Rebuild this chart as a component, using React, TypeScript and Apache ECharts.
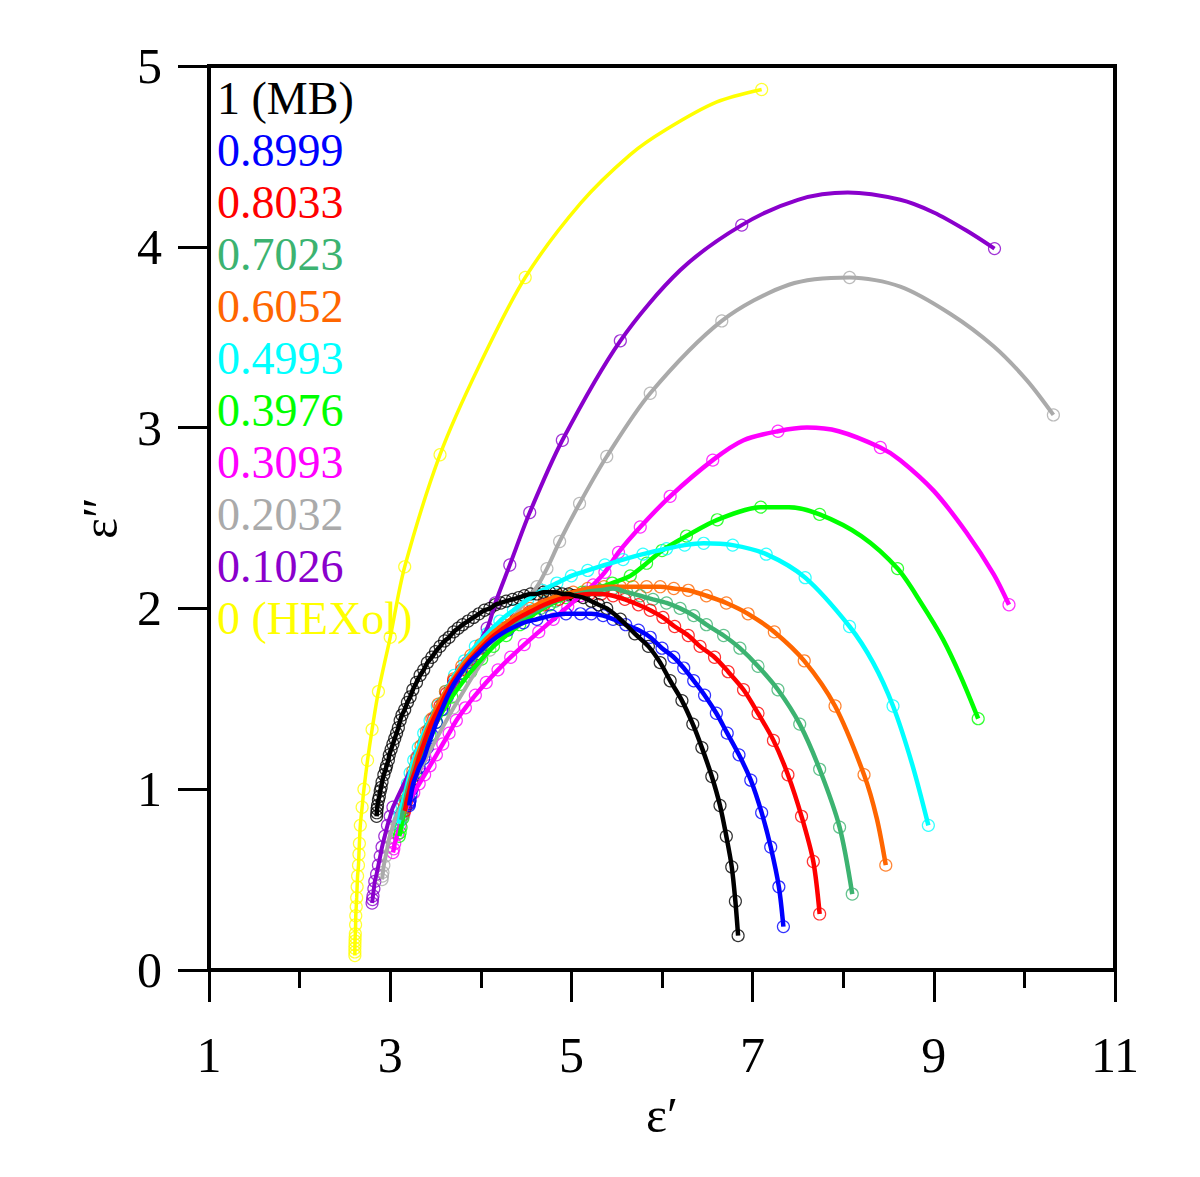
import React, { useEffect, useRef } from "react";
import * as echarts from "echarts";

const FONT = '"Liberation Serif", "Times New Roman", serif';

// Series names (legend order) and colours
const seriesNames = ["1 (MB)", "0.8999", "0.8033", "0.7023", "0.6052", "0.4993", "0.3976", "0.3093", "0.2032", "0.1026", "0 (HEXol)"];
const seriesColors = ["#000000", "#0000ff", "#ff0000", "#3cb371", "#ff6600", "#00ffff", "#00ff00", "#ff00ff", "#aaaaaa", "#8a00cc", "#ffff00"];

// Points: [eps', eps''] ; a third value 0 means "curve point only, no marker"
const mbPts = [
  [2.85, 0.85], [2.852, 0.87], [2.855, 0.89], [2.86, 0.91], [2.87, 0.94], [2.88, 0.96], [2.89, 0.99], [2.90, 1.01], [2.91, 1.04], [2.93, 1.08],
  [2.95, 1.11], [2.96, 1.13], [2.98, 1.16], [2.99, 1.19], [3.01, 1.22], [3.03, 1.25], [3.05, 1.28], [3.07, 1.31], [3.09, 1.34], [3.11, 1.38],
  [3.13, 1.41], [3.16, 1.44], [3.19, 1.48], [3.22, 1.51], [3.25, 1.55], [3.29, 1.59], [3.33, 1.63], [3.37, 1.66], [3.41, 1.70], [3.46, 1.73],
  [3.50, 1.76], [3.55, 1.79], [3.60, 1.82], [3.65, 1.84], [3.70, 1.87], [3.75, 1.89], [3.80, 1.91], [3.86, 1.93], [3.92, 1.95], [3.98, 1.97],
  [4.04, 1.99], [4.10, 2.00], [4.16, 2.02], [4.22, 2.03], [4.28, 2.04], [4.35, 2.05], [4.42, 2.06], [4.48, 2.07], [4.55, 2.08], [4.62, 2.08],
  [4.69, 2.09], [4.76, 2.09], [4.83, 2.09], [4.90, 2.08], [4.97, 2.08], [5.04, 2.07], [5.13, 2.06], [5.22, 2.04], [5.30, 2.02], [5.39, 2.00],
  [5.54, 1.94], [5.70, 1.86], [5.85, 1.79], [5.98, 1.70], [6.09, 1.60], [6.22, 1.49], [6.34, 1.36], [6.44, 1.23], [6.55, 1.07], [6.64, 0.91],
  [6.71, 0.74], [6.77, 0.57], [6.81, 0.38], [6.84, 0.19],
];
const x8999Pts = [
  [3.21, 0.91], [3.212, 0.92], [3.215, 0.93], [3.22, 0.94], [3.23, 0.97], [3.24, 1.00], [3.26, 1.04], [3.29, 1.08], [3.32, 1.12], [3.37, 1.17],
  [3.41, 1.23], [3.46, 1.30], [3.51, 1.37], [3.57, 1.44], [3.63, 1.51], [3.70, 1.58], [3.78, 1.64], [3.87, 1.70], [3.97, 1.75], [4.07, 1.80],
  [4.17, 1.84], [4.30, 1.88], [4.47, 1.92], [4.62, 1.94], [4.78, 1.96], [4.94, 1.97], [5.10, 1.97], [5.22, 1.97], [5.35, 1.96], [5.46, 1.94],
  [5.60, 1.91], [5.74, 1.88], [5.87, 1.84], [6.00, 1.78], [6.13, 1.73], [6.24, 1.67], [6.35, 1.60], [6.47, 1.52], [6.60, 1.42], [6.72, 1.31],
  [6.85, 1.19], [6.98, 1.05], [7.10, 0.87], [7.20, 0.68], [7.29, 0.46], [7.34, 0.24],
];
const x8033Pts = [
  [3.16, 0.88], [3.17, 0.90], [3.18, 0.93], [3.21, 0.99], [3.24, 1.05], [3.28, 1.11], [3.32, 1.18], [3.37, 1.25], [3.42, 1.32], [3.48, 1.39],
  [3.55, 1.46], [3.62, 1.53], [3.70, 1.60], [3.79, 1.66], [3.89, 1.72], [4.00, 1.78], [4.12, 1.84], [4.25, 1.89], [4.39, 1.94], [4.54, 1.98],
  [4.70, 2.02], [4.86, 2.05], [5.03, 2.07], [5.20, 2.08], [5.33, 2.08], [5.46, 2.07], [5.59, 2.05], [5.74, 2.02], [5.87, 1.99], [6.01, 1.95],
  [6.14, 1.90], [6.29, 1.85], [6.42, 1.79], [6.58, 1.73], [6.73, 1.65], [6.90, 1.55], [7.06, 1.42], [7.23, 1.27], [7.39, 1.08], [7.54, 0.85],
  [7.67, 0.60], [7.74, 0.31],
];
const x7023Pts = [
  [3.12, 0.83], [3.13, 0.85], [3.14, 0.88], [3.17, 0.94], [3.20, 1.00], [3.24, 1.07], [3.28, 1.13], [3.33, 1.20], [3.38, 1.27], [3.44, 1.34],
  [3.51, 1.41], [3.58, 1.48], [3.66, 1.55], [3.75, 1.62], [3.85, 1.68], [3.96, 1.74], [4.08, 1.80], [4.21, 1.86], [4.35, 1.91], [4.50, 1.96],
  [4.66, 2.00], [4.82, 2.04], [4.99, 2.07], [5.16, 2.09], [5.31, 2.10], [5.46, 2.11], [5.61, 2.09], [5.76, 2.07], [5.90, 2.05], [6.05, 2.03],
  [6.20, 2.00], [6.35, 1.96], [6.49, 1.91], [6.68, 1.85], [6.86, 1.78], [7.06, 1.68], [7.28, 1.55], [7.52, 1.36], [7.74, 1.11], [7.96, 0.79],
  [8.10, 0.42],
];
const x6052Pts = [
  [3.14, 0.86], [3.15, 0.88], [3.16, 0.91], [3.18, 0.97], [3.21, 1.03], [3.25, 1.10], [3.29, 1.17], [3.34, 1.24], [3.40, 1.32], [3.46, 1.39],
  [3.53, 1.47], [3.61, 1.54], [3.70, 1.61], [3.79, 1.68], [3.89, 1.74], [4.00, 1.80], [4.12, 1.86], [4.25, 1.91], [4.39, 1.96], [4.54, 2.00],
  [4.70, 2.04], [4.86, 2.07], [5.02, 2.09], [5.18, 2.11], [5.36, 2.12], [5.54, 2.12], [5.68, 2.12], [5.83, 2.12], [5.98, 2.12], [6.13, 2.11],
  [6.29, 2.10], [6.49, 2.07], [6.71, 2.03], [6.95, 1.97], [7.24, 1.87], [7.57, 1.71], [7.91, 1.46], [8.23, 1.08], [8.37, 0.84, 0], [8.47, 0.58],
];
const x4993Pts = [
  [3.09, 0.81], [3.10, 0.83], [3.11, 0.86], [3.13, 0.91], [3.16, 0.97], [3.19, 1.03], [3.22, 1.09], [3.26, 1.16], [3.31, 1.23], [3.37, 1.31],
  [3.44, 1.38], [3.52, 1.46], [3.61, 1.54], [3.71, 1.63], [3.82, 1.71], [3.94, 1.79], [4.07, 1.86], [4.21, 1.93], [4.36, 1.99], [4.52, 2.05],
  [4.68, 2.10], [4.84, 2.14], [5.00, 2.18], [5.18, 2.21], [5.37, 2.24], [5.57, 2.27], [5.79, 2.30], [6.05, 2.33], [6.25, 2.35], [6.46, 2.36],
  [6.78, 2.35], [7.15, 2.30], [7.58, 2.17], [8.07, 1.90], [8.33, 1.70, 0], [8.55, 1.46], [8.76, 1.14, 0], [8.94, 0.80],
];
const x3976Pts = [
  [3.10, 0.74], [3.11, 0.76], [3.12, 0.79], [3.14, 0.84], [3.17, 0.90], [3.20, 0.96], [3.24, 1.03], [3.28, 1.09], [3.33, 1.16], [3.38, 1.23],
  [3.44, 1.30], [3.51, 1.37], [3.59, 1.44], [3.68, 1.51], [3.78, 1.58], [3.89, 1.65], [4.01, 1.72], [4.14, 1.79], [4.28, 1.85], [4.43, 1.91],
  [4.59, 1.97], [4.76, 2.02], [4.94, 2.06], [5.12, 2.09], [5.28, 2.11], [5.45, 2.14], [5.65, 2.18], [5.83, 2.25], [6.00, 2.32], [6.27, 2.40],
  [6.61, 2.49], [7.09, 2.56], [7.40, 2.56, 0], [7.74, 2.52], [8.20, 2.40, 0], [8.60, 2.22], [8.86, 2.03, 0], [9.10, 1.83, 0], [9.30, 1.62, 0],
  [9.49, 1.39],
];
const x3093Pts = [
  [3.03, 0.65], [3.04, 0.67], [3.05, 0.70], [3.08, 0.75], [3.11, 0.80], [3.15, 0.86], [3.20, 0.92], [3.26, 0.98], [3.32, 1.03], [3.38, 1.08],
  [3.44, 1.13], [3.51, 1.19], [3.58, 1.25], [3.65, 1.31], [3.73, 1.38], [3.83, 1.45], [3.94, 1.52], [4.06, 1.59], [4.19, 1.66], [4.33, 1.73],
  [4.48, 1.80], [4.64, 1.87], [4.80, 1.94], [4.96, 2.01], [5.10, 2.07], [5.24, 2.13], [5.37, 2.20], [5.52, 2.31], [5.76, 2.45], [6.09, 2.62],
  [6.56, 2.82], [6.90, 2.93, 0], [7.28, 2.98], [7.60, 3.00, 0], [7.95, 2.98, 0], [8.41, 2.89], [8.63, 2.82, 0], [9.00, 2.65, 0], [9.36, 2.42, 0],
  [9.66, 2.19, 0], [9.83, 2.02],
];
const x2032Pts = [
  [2.91, 0.50], [2.915, 0.52], [2.92, 0.54], [2.93, 0.58], [2.95, 0.63], [2.97, 0.68], [2.99, 0.73], [3.02, 0.78], [3.05, 0.83], [3.30, 1.08],
  [3.70, 1.45], [4.10, 1.77], [4.45, 2.01], [4.62, 2.12], [4.73, 2.22], [4.87, 2.37], [5.09, 2.58], [5.39, 2.84], [5.87, 3.19], [6.66, 3.59],
  [7.40, 3.79, 0], [8.07, 3.83], [8.63, 3.78, 0], [9.18, 3.63, 0], [9.66, 3.45, 0], [10.03, 3.26, 0], [10.32, 3.07],
];
const x1026Pts = [
  [2.80, 0.37], [2.805, 0.39], [2.81, 0.41], [2.82, 0.45], [2.83, 0.49], [2.85, 0.53], [2.87, 0.58], [2.89, 0.63], [2.91, 0.68], [2.94, 0.74],
  [2.97, 0.80], [3.00, 0.85], [3.03, 0.90], [3.30, 1.18], [3.60, 1.47], [3.85, 1.70], [4.07, 1.89], [4.16, 2.03], [4.32, 2.24], [4.54, 2.53],
  [4.90, 2.93], [5.54, 3.48], [6.20, 3.87, 0], [6.88, 4.12], [7.50, 4.26, 0], [8.05, 4.30, 0], [8.63, 4.26, 0], [9.00, 4.19, 0], [9.36, 4.09, 0],
  [9.67, 3.99],
];
const hexolPts = [
  [2.61, 0.08], [2.61, 0.10], [2.61, 0.12], [2.611, 0.14], [2.612, 0.16], [2.613, 0.18], [2.615, 0.20], [2.618, 0.25], [2.62, 0.30], [2.625, 0.35],
  [2.63, 0.40], [2.635, 0.46], [2.64, 0.52], [2.65, 0.58], [2.655, 0.64], [2.66, 0.70], [2.67, 0.80], [2.69, 0.90], [2.71, 1.00], [2.75, 1.16],
  [2.80, 1.33], [2.87, 1.54], [3.00, 1.84], [3.16, 2.23], [3.55, 2.85], [3.99, 3.35, 0], [4.49, 3.83], [5.10, 4.24, 0], [5.65, 4.51, 0],
  [6.05, 4.65, 0], [6.60, 4.80, 0], [7.10, 4.87],
];

const seriesPoints = [mbPts, x8999Pts, x8033Pts, x7023Pts, x6052Pts, x4993Pts, x3976Pts, x3093Pts, x2032Pts, x1026Pts, hexolPts];
const lineWidths = [4.5, 4.5, 4.5, 4.5, 4.5, 4.5, 4.5, 4.5, 4, 4, 3.5];

const xTicks = { min: 1, max: 11, interval: 2 };
const yTicks = { min: 0, max: 5, interval: 1 };

export default function App() {
  const ref = useRef<HTMLDivElement>(null);
  useEffect(() => {
    document.body.style.margin = "0";
    const chart = echarts.init(ref.current as HTMLDivElement, null, { renderer: "svg" });
    const series: any[] = [];
    for (let i = seriesNames.length - 1; i >= 0; i--) {
      const pts = seriesPoints[i];
      const color = seriesColors[i];
      const curve = pts.map((p) => [p[0], p[1]]);
      const marks = pts.filter((p) => p[2] !== 0).map((p) => [p[0], p[1]]);
      series.push({
        type: "line",
        name: seriesNames[i],
        data: curve,
        smooth: 0.3,
        showSymbol: false,
        symbol: "none",
        lineStyle: { color, width: lineWidths[i] },
        itemStyle: { color },
        emphasis: { disabled: true },
        silent: true,
      });
      series.push({
        type: "scatter",
        name: seriesNames[i],
        data: marks,
        symbol: "circle",
        symbolSize: 12,
        itemStyle: { color: "rgba(0,0,0,0)", borderColor: color, borderWidth: 1.2 },
        emphasis: { disabled: true },
        silent: true,
      });
    }
    const option: any = {
      animation: false,
      backgroundColor: "#ffffff",
      grid: { left: 209, right: 85, top: 66, bottom: 207, show: true, borderColor: "#000", borderWidth: 4, backgroundColor: "transparent" },
      legend: {
        show: true,
        orient: "vertical",
        left: 212,
        top: 75,
        padding: 0,
        itemGap: 6,
        itemWidth: 0,
        itemHeight: 0,
        icon: "none",
        selectedMode: false,
        data: seriesNames.map((n, i) => ({ name: n, icon: "none", textStyle: { color: seriesColors[i] } })),
        textStyle: { fontFamily: FONT, fontSize: 46, lineHeight: 46 },
      },
      xAxis: {
        type: "value",
        min: xTicks.min,
        max: xTicks.max,
        interval: xTicks.interval,
        name: "ε′",
        nameLocation: "middle",
        nameGap: 120,
        nameTextStyle: { fontFamily: FONT, fontSize: 50, color: "#000" },
        axisLine: { show: true, onZero: false, lineStyle: { color: "#000", width: 4 } },
        axisTick: { show: true, inside: false, length: 32, lineStyle: { color: "#000", width: 3 } },
        minorTick: { show: true, splitNumber: 2, length: 18, lineStyle: { color: "#000", width: 3 } },
        axisLabel: { fontFamily: FONT, fontSize: 50, color: "#000", margin: 60 },
        splitLine: { show: false },
        minorSplitLine: { show: false },
      },
      yAxis: {
        type: "value",
        min: yTicks.min,
        max: yTicks.max,
        interval: yTicks.interval,
        name: "ε″",
        nameLocation: "middle",
        nameRotate: 90,
        nameGap: 84,
        nameTextStyle: { fontFamily: FONT, fontSize: 50, color: "#000" },
        axisLine: { show: true, onZero: false, lineStyle: { color: "#000", width: 4 } },
        axisTick: { show: true, inside: false, length: 31, lineStyle: { color: "#000", width: 3 } },
        axisLabel: { fontFamily: FONT, fontSize: 50, color: "#000", margin: 47 },
        splitLine: { show: false },
      },
      series,
    };
    chart.setOption(option);
    return () => chart.dispose();
  }, []);
  return <div ref={ref} style={{ position: "absolute", left: 0, top: 0, width: 1200, height: 1177 }} />;
}
